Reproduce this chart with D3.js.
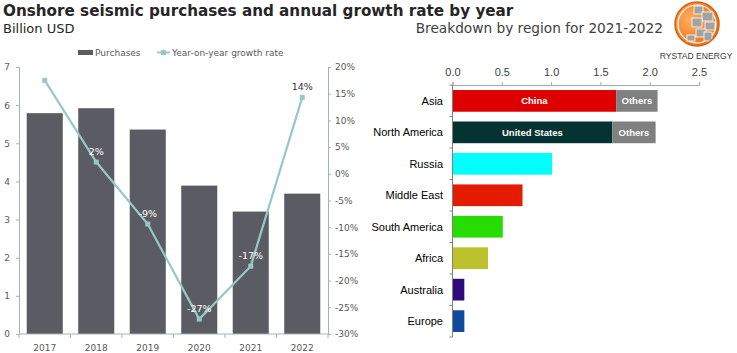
<!DOCTYPE html>
<html>
<head>
<meta charset="utf-8">
<script src="https://cdn.jsdelivr.net/npm/d3@7"></script>
<style>
    body { margin: 0; background: #fff; }
    svg { display: block; }
    .verdana { font-family: "DejaVu Sans", Verdana, sans-serif; }
    .arial { font-family: "Liberation Sans", Arial, sans-serif; }
</style>
</head>
<body>
<svg id="chart" width="737" height="353"></svg>
<script>
// Left chart: purchases (billion USD) and growth rate (%)
const years = ["2017", "2018", "2019", "2020", "2021", "2022"];
const purchases = [5.79, 5.92, 5.36, 3.89, 3.21, 3.68];
const growth = [17.5, 2.2, -9.4, -27.2, -17.3, 14.3];
const growthLabels = ["", "2%", "-9%", "-27%", "-17%", "14%"];
const purchaseTicks = [0, 1, 2, 3, 4, 5, 6, 7];
const growthTicks = [-30, -25, -20, -15, -10, -5, 0, 5, 10, 15, 20];

// Right chart: breakdown by region for 2021-2022
const regions = ["Asia", "North America", "Russia", "Middle East", "South America", "Africa", "Australia", "Europe"];
const mainValues = [1.66, 1.62, 1.01, 0.71, 0.51, 0.36, 0.12, 0.12];
const otherValues = [0.42, 0.44, 0, 0, 0, 0, 0, 0];
const mainLabels = ["China", "United States", "", "", "", "", "", ""];
const regionTicks = [0, 0.5, 1.0, 1.5, 2.0, 2.5];

const regionPalette = ["#de0000", "#053331", "#00ffff", "#e31c00", "#26dc00", "#bcc22b", "#2f0b7c", "#0f4a9b"];

const svg = d3.select("#chart");
const axisColor = "#a3b3b6";
const textColor = "#595959";

// ---- titles
svg.append("text").attr("class", "verdana")
    .attr("x", 3).attr("y", 16)
    .attr("font-size", 15.2).attr("font-weight", "bold").attr("fill", "#262626")
    .text("Onshore seismic purchases and annual growth rate by year");
svg.append("text").attr("class", "verdana")
    .attr("x", 3).attr("y", 33)
    .attr("font-size", 13).attr("fill", "#262626")
    .text("Billion USD");
svg.append("text").attr("class", "verdana")
    .attr("x", 663).attr("y", 33).attr("text-anchor", "end")
    .attr("font-size", 13.7).attr("fill", "#404040")
    .text("Breakdown by region for 2021-2022");

// ---- left chart
const x = d3.scaleBand().domain(years).range([19, 328]).paddingInner(0.3).paddingOuter(0.15);
const yL = d3.scaleLinear().domain([0, 7]).range([334, 67]);
const yR = d3.scaleLinear().domain([-30, 20]).range([334, 67]);

const left = svg.append("g");

left.selectAll(".bar").data(years).join("rect")
    .attr("x", d => x(d))
    .attr("y", (d, i) => yL(purchases[i]))
    .attr("width", x.bandwidth())
    .attr("height", (d, i) => yL(0) - yL(purchases[i]))
    .attr("fill", "#5b5b63");

function styleAxis(g, color, font, size, fill) {
    g.select(".domain").attr("stroke", color);
    g.selectAll(".tick line").attr("stroke", color);
    g.selectAll(".tick text").attr("font-family", font).attr("font-size", size).attr("fill", fill);
}

const leftAxis = left.append("g").attr("transform", "translate(19,0)")
    .call(d3.axisLeft(yL).tickValues(purchaseTicks).tickFormat(d3.format("d")).tickSize(3).tickSizeOuter(3).tickPadding(6));
styleAxis(leftAxis, axisColor, "DejaVu Sans", 9, textColor);

const rightAxis = left.append("g").attr("transform", "translate(328,0)")
    .call(d3.axisRight(yR).tickValues(growthTicks).tickFormat(d => d + "%").tickSize(3).tickSizeOuter(3).tickPadding(4));
styleAxis(rightAxis, axisColor, "DejaVu Sans", 9, textColor);

// bottom axis with ticks between categories
const bottom = left.append("g");
bottom.append("line").attr("x1", 19).attr("x2", 328).attr("y1", 334).attr("y2", 334).attr("stroke", axisColor);
const boundaries = years.map(d => x(d) - x.step() * x.paddingInner() / 2).concat([328]);
bottom.selectAll(".btick").data(boundaries).join("line")
    .attr("x1", d => d).attr("x2", d => d).attr("y1", 334).attr("y2", 338).attr("stroke", axisColor);
bottom.selectAll(".blabel").data(years).join("text")
    .attr("class", "verdana")
    .attr("x", d => x(d) + x.bandwidth() / 2).attr("y", 351)
    .attr("text-anchor", "middle").attr("font-size", 9).attr("fill", textColor)
    .text(d => d);

// growth line
const lineColor = "#98c8c6";
const line = d3.line()
    .x((d, i) => x(years[i]) + x.bandwidth() / 2)
    .y(d => yR(d));
left.append("path").datum(growth)
    .attr("d", line).attr("fill", "none").attr("stroke", lineColor).attr("stroke-width", 2.2);
left.selectAll(".pt").data(growth).join("rect")
    .attr("x", (d, i) => x(years[i]) + x.bandwidth() / 2 - 2.5)
    .attr("y", d => yR(d) - 2.5)
    .attr("width", 5).attr("height", 5)
    .attr("fill", lineColor);
left.selectAll(".plabel").data(growth).join("text")
    .attr("class", "verdana")
    .attr("x", (d, i) => x(years[i]) + x.bandwidth() / 2)
    .attr("y", d => yR(d) - 7)
    .attr("text-anchor", "middle").attr("font-size", 9.5)
    .attr("fill", (d, i) => i === years.length - 1 ? "#333" : "#fff")
    .text((d, i) => growthLabels[i]);

// legend
const legend = left.append("g").attr("class", "verdana");
legend.append("rect").attr("x", 78).attr("y", 50).attr("width", 15).attr("height", 5).attr("fill", "#5b5b63");
legend.append("text").attr("x", 95).attr("y", 56).attr("font-size", 9).attr("fill", textColor).text("Purchases");
legend.append("line").attr("x1", 157).attr("x2", 170).attr("y1", 52.5).attr("y2", 52.5).attr("stroke", lineColor).attr("stroke-width", 2);
legend.append("rect").attr("x", 161).attr("y", 50).attr("width", 5).attr("height", 5).attr("fill", lineColor);
legend.append("text").attr("x", 172).attr("y", 56).attr("font-size", 9).attr("fill", textColor).text("Year-on-year growth rate");

// ---- right chart
const xB = d3.scaleLinear().domain([0, 2.5]).range([452.5, 699]);
const yB = d3.scaleBand().domain(regions).range([85, 337]).paddingInner(0.31).paddingOuter(0.16);
const right = svg.append("g");

right.selectAll(".main").data(regions).join("rect")
    .attr("x", xB(0))
    .attr("y", d => yB(d))
    .attr("width", (d, i) => xB(mainValues[i]) - xB(0))
    .attr("height", yB.bandwidth())
    .attr("fill", (d, i) => regionPalette[i]);
right.selectAll(".other").data(regions).join("rect")
    .attr("x", (d, i) => xB(mainValues[i]))
    .attr("y", d => yB(d))
    .attr("width", (d, i) => xB(mainValues[i] + otherValues[i]) - xB(mainValues[i]))
    .attr("height", yB.bandwidth())
    .attr("fill", "#808080");

right.selectAll(".mlabel").data(regions).join("text")
    .attr("class", "arial")
    .attr("x", (d, i) => (xB(0) + xB(mainValues[i])) / 2)
    .attr("y", d => yB(d) + yB.bandwidth() / 2 + 3.5)
    .attr("text-anchor", "middle").attr("font-size", 9.5).attr("font-weight", "bold").attr("fill", "#fff")
    .text((d, i) => mainLabels[i]);
right.selectAll(".olabel").data(regions).join("text")
    .attr("class", "arial")
    .attr("x", (d, i) => (xB(mainValues[i]) + xB(mainValues[i] + otherValues[i])) / 2)
    .attr("y", d => yB(d) + yB.bandwidth() / 2 + 3.5)
    .attr("text-anchor", "middle").attr("font-size", 9.5).attr("font-weight", "bold").attr("fill", "#fff")
    .text((d, i) => otherValues[i] > 0 ? "Others" : "");

const topAxis = right.append("g").attr("transform", "translate(0,85)")
    .call(d3.axisTop(xB).tickValues(regionTicks).tickFormat(d3.format(".1f")).tickSize(3).tickSizeOuter(3).tickPadding(6));
styleAxis(topAxis, "#a0a8c0", "Liberation Sans", 11, "#404040");

// category axis, ticks between bars
const cat = right.append("g");
cat.append("line").attr("x1", 452.5).attr("x2", 452.5).attr("y1", 85).attr("y2", 337).attr("stroke", "#808080");
const catBounds = regions.map(d => yB(d) - yB.step() * yB.paddingInner() / 2).concat([337]);
cat.selectAll(".ctick").data(catBounds).join("line")
    .attr("x1", 449.5).attr("x2", 452.5).attr("y1", d => d).attr("y2", d => d).attr("stroke", "#808080");
cat.selectAll(".clabel").data(regions).join("text")
    .attr("class", "arial")
    .attr("x", 443).attr("y", d => yB(d) + yB.bandwidth() / 2 + 4)
    .attr("text-anchor", "end").attr("font-size", 11).attr("fill", "#000")
    .text(d => d);

// ---- logo (rough globe)
const logo = svg.append("g").attr("transform", "translate(697,24)");
const grad = svg.append("defs").append("radialGradient").attr("id", "orange").attr("cx", "35%").attr("cy", "40%").attr("r", "70%");
grad.append("stop").attr("offset", "0%").attr("stop-color", "#ffb060");
grad.append("stop").attr("offset", "100%").attr("stop-color", "#e86a10");
logo.append("circle").attr("r", 22).attr("fill", "url(#orange)");
logo.append("circle").attr("r", 19).attr("fill", "none").attr("stroke", "#fff").attr("stroke-width", 1.2);
const grey = "#a3a3a3";
[[-3, -18, 9, 8], [5, -12, 11, 9], [-5, -6, 10, 9], [8, -2, 10, 8], [-1, 5, 10, 8], [7, 8, 8, 9], [-10, 11, 8, 6]]
    .forEach(r => logo.append("rect").attr("x", r[0]).attr("y", r[1]).attr("width", r[2]).attr("height", r[3])
        .attr("fill", grey).attr("stroke", "#fff").attr("stroke-width", 0.8));
logo.append("circle").attr("r", 22).attr("fill", "none").attr("stroke", "#d86010").attr("stroke-width", 1.5);
svg.append("text").attr("class", "arial")
    .attr("x", 696).attr("y", 59).attr("text-anchor", "middle")
    .attr("font-size", 8.6).attr("fill", "#404040")
    .text("RYSTAD ENERGY");
</script>
</body>
</html>
